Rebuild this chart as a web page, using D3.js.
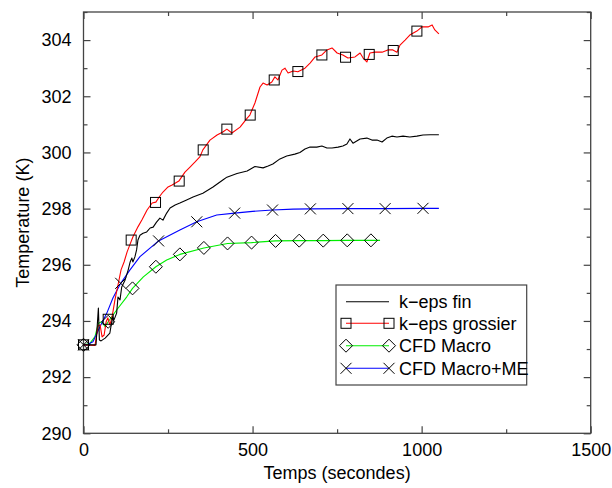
<!DOCTYPE html>
<html>
<head>
<meta charset="utf-8">
<script src="https://cdn.jsdelivr.net/npm/d3@7"></script>
<style>
  html, body { margin: 0; padding: 0; background: #fff; }
  svg { display: block; font-family: "Liberation Sans", Arial, sans-serif; }
</style>
</head>
<body>
<svg id="chart" width="612" height="488"></svg>
<script>
// ---- data ----
const xMajorTicks = [0, 500, 1000, 1500];
const xMinorTicks = [250, 750, 1250];
const yMajorTicks = [290, 292, 294, 296, 298, 300, 302, 304];
const yMinorTicks = [291, 293, 295, 297, 299, 301, 303, 305];

const seriesNames = ["k\u2212eps fin", "k\u2212eps grossier", "CFD Macro", "CFD Macro+ME"];

// k-eps fin (black)
const finT = [0, 37, 44, 47, 52, 64, 78, 86, 90, 98, 102, 108, 113, 123, 132, 138, 143, 146, 152, 157, 161, 167, 176, 187, 197, 206, 216, 226, 235, 246, 256, 271, 285, 305, 324, 353, 383, 412, 424, 454, 484, 507, 531, 546, 560, 581, 601, 625, 640, 655, 670, 690, 705, 720, 735, 753, 767, 779, 788, 797, 818, 838, 853, 868, 883, 897, 912, 927, 945, 965, 986, 1004, 1025, 1051];
const finV = [293.15, 293.15, 294.46, 293.32, 293.29, 293.39, 293.57, 294.15, 294.03, 294.28, 294.85, 294.75, 295.21, 295.46, 295.81, 296.1, 296.24, 296.1, 296.28, 296.53, 296.88, 297.05, 297.12, 297.17, 297.31, 297.34, 297.52, 297.66, 297.59, 297.84, 298.02, 298.13, 298.2, 298.31, 298.41, 298.55, 298.77, 299.02, 299.12, 299.25, 299.34, 299.5, 299.45, 299.52, 299.59, 299.77, 299.87, 299.94, 300.0, 300.12, 300.19, 300.19, 300.23, 300.16, 300.16, 300.19, 300.23, 300.3, 300.48, 300.33, 300.48, 300.51, 300.44, 300.44, 300.37, 300.51, 300.58, 300.55, 300.58, 300.55, 300.58, 300.62, 300.63, 300.63];

// k-eps grossier (red)
const grosT = [0, 34, 40, 43, 49, 55, 61, 67, 72, 78, 84, 93, 102, 111, 120, 129, 137, 146, 161, 173, 188, 203, 214, 226, 235, 250, 262, 282, 300, 315, 330, 344, 353, 374, 395, 412, 424, 439, 463, 484, 492, 507, 522, 531, 543, 557, 566, 575, 587, 596, 605, 620, 634, 655, 670, 685, 705, 720, 735, 750, 767, 782, 803, 818, 827, 838, 847, 862, 883, 900, 915, 927, 936, 951, 965, 986, 1001, 1019, 1031, 1039, 1051];
const grosV = [293.15, 293.13, 293.6, 293.82, 293.86, 293.43, 293.5, 293.97, 294.11, 293.86, 294.11, 294.75, 295.28, 295.82, 296.1, 296.46, 296.71, 296.99, 297.35, 297.6, 297.95, 298.2, 298.23, 298.45, 298.59, 298.77, 298.84, 298.98, 299.3, 299.48, 299.66, 299.84, 300.09, 300.44, 300.62, 300.73, 300.83, 300.69, 300.9, 301.22, 301.33, 301.76, 302.33, 302.47, 302.4, 302.51, 302.69, 302.58, 302.93, 303.0, 302.83, 302.9, 302.87, 303.0, 303.18, 303.4, 303.47, 303.65, 303.72, 303.54, 303.47, 303.36, 303.4, 303.54, 303.36, 303.22, 303.54, 303.57, 303.57, 303.65, 303.65, 303.57, 303.82, 304.0, 304.18, 304.32, 304.47, 304.47, 304.54, 304.36, 304.22];
const grosMarkT = [0, 73, 141, 213, 283, 354, 424, 493, 564, 634, 705, 775, 845, 916, 986];
const grosMarkV = [293.15, 294.06, 296.88, 298.22, 298.98, 300.09, 300.83, 301.33, 302.58, 302.88, 303.47, 303.39, 303.49, 303.63, 304.32];

// CFD Macro (green)
const macroT = [0, 19, 34, 44, 54, 64, 73, 98, 128, 145, 177, 214, 246, 285, 356, 426, 497, 568, 638, 709, 780, 850, 877];
const macroV = [293.15, 293.2, 293.44, 293.92, 293.97, 293.8, 293.97, 294.39, 294.86, 295.16, 295.57, 295.93, 296.17, 296.37, 296.6, 296.76, 296.79, 296.85, 296.86, 296.86, 296.87, 296.87, 296.87];
const macroMarkT = [0, 73, 145, 214, 285, 356, 426, 497, 568, 638, 709, 780, 850];
const macroMarkV = [293.15, 293.97, 295.16, 295.93, 296.37, 296.6, 296.76, 296.79, 296.85, 296.86, 296.86, 296.87, 296.87];

// CFD Macro+ME (blue)
const meT = [0, 10, 28, 49, 69, 87, 110, 137, 167, 222, 285, 335, 394, 447, 500, 559, 620, 671, 782, 892, 1004, 1051];
const meV = [293.15, 293.15, 293.26, 293.8, 294.28, 294.82, 295.34, 295.81, 296.29, 296.85, 297.24, 297.53, 297.77, 297.84, 297.9, 297.95, 297.98, 297.99, 298.0, 298.0, 298.01, 298.01];
const meMarkT = [0, 110, 222, 335, 447, 559, 671, 782, 892, 1004];
const meMarkV = [293.15, 295.34, 296.85, 297.53, 297.84, 297.95, 297.99, 298.0, 298.0, 298.01];

// ---- drawing ----
const svg = d3.select("#chart");
const L = 83.5, R = 590.7, T = 12, B = 433.3;
const x = d3.scaleLinear().domain([0, 1500]).range([L, R]);
const y = d3.scaleLinear().domain([290, 305]).range([B, T]);
const frameColor = "#444";
const fontSize = 18;

function zip(a, b) { return a.map((v, i) => [v, b[i]]); }
const line = d3.line().x(d => x(d[0])).y(d => y(d[1]));

// axes with inward ticks
function styleAxis(g) {
  g.select(".domain").remove();
  g.selectAll(".tick line").attr("stroke", frameColor).attr("stroke-width", 1.2);
  g.selectAll("text").attr("font-size", fontSize).attr("fill", "#000")
    .attr("font-family", "'Liberation Sans', Arial, sans-serif");
}
svg.append("g").attr("transform", `translate(0,${B})`)
  .call(d3.axisBottom(x).tickValues(xMajorTicks).tickSize(-7).tickPadding(10).tickFormat(d3.format("d")))
  .call(styleAxis);
svg.append("g").attr("transform", `translate(0,${B})`)
  .call(d3.axisBottom(x).tickValues(xMinorTicks).tickSize(-4).tickFormat(""))
  .call(styleAxis);
svg.append("g").attr("transform", `translate(0,${T})`)
  .call(d3.axisTop(x).tickValues(xMajorTicks).tickSize(-7).tickFormat(""))
  .call(styleAxis);
svg.append("g").attr("transform", `translate(0,${T})`)
  .call(d3.axisTop(x).tickValues(xMinorTicks).tickSize(-4).tickFormat(""))
  .call(styleAxis);
svg.append("g").attr("transform", `translate(${L},0)`)
  .call(d3.axisLeft(y).tickValues(yMajorTicks).tickSize(-7).tickPadding(12).tickFormat(d3.format("d")))
  .call(styleAxis);
svg.append("g").attr("transform", `translate(${L},0)`)
  .call(d3.axisLeft(y).tickValues(yMinorTicks).tickSize(-4).tickFormat(""))
  .call(styleAxis);
svg.append("g").attr("transform", `translate(${R},0)`)
  .call(d3.axisRight(y).tickValues(yMajorTicks).tickSize(-7).tickFormat(""))
  .call(styleAxis);
svg.append("g").attr("transform", `translate(${R},0)`)
  .call(d3.axisRight(y).tickValues(yMinorTicks).tickSize(-4).tickFormat(""))
  .call(styleAxis);

// frame
svg.append("rect").attr("x", L).attr("y", T).attr("width", R - L).attr("height", B - T)
  .attr("fill", "none").attr("stroke", frameColor).attr("stroke-width", 1.3);

// axis labels
svg.append("text").attr("x", (L + R) / 2).attr("y", 479).attr("text-anchor", "middle")
  .attr("font-size", fontSize).text("Temps (secondes)");
svg.append("text").attr("transform", `translate(29,${(T + B) / 2}) rotate(-90)`)
  .attr("text-anchor", "middle").attr("font-size", fontSize).text("Temperature (K)");

// markers
const sq = 10, dm = 6.5, cr = 5.5;
function drawMarker(g, kind, cx, cy) {
  if (kind === "square") {
    g.append("rect").attr("x", cx - sq / 2).attr("y", cy - sq / 2).attr("width", sq).attr("height", sq)
      .attr("fill", "none").attr("stroke", "#000").attr("stroke-width", 1);
  } else if (kind === "diamond") {
    g.append("path").attr("d", `M${cx},${cy - dm}L${cx + dm},${cy}L${cx},${cy + dm}L${cx - dm},${cy}Z`)
      .attr("fill", "none").attr("stroke", "#000").attr("stroke-width", 1);
  } else if (kind === "cross") {
    g.append("path").attr("d", `M${cx - cr},${cy - cr}L${cx + cr},${cy + cr}M${cx - cr},${cy + cr}L${cx + cr},${cy - cr}`)
      .attr("fill", "none").attr("stroke", "#000").attr("stroke-width", 1);
  }
}

const series = [
  { name: seriesNames[0], color: "#000000", data: zip(finT, finV), marks: [], kind: null },
  { name: seriesNames[1], color: "#ff0000", data: zip(grosT, grosV), marks: zip(grosMarkT, grosMarkV), kind: "square" },
  { name: seriesNames[2], color: "#00ee00", data: zip(macroT, macroV), marks: zip(macroMarkT, macroMarkV), kind: "diamond" },
  { name: seriesNames[3], color: "#0000ff", data: zip(meT, meV), marks: zip(meMarkT, meMarkV), kind: "cross" }
];

const plot = svg.append("g");
[2, 3, 1, 0].forEach(i => {
  const s = series[i];
  plot.append("path").datum(s.data).attr("d", line).attr("fill", "none")
    .attr("stroke", s.color).attr("stroke-width", 1.1).attr("stroke-linejoin", "round");
});
[2, 3, 1].forEach(i => {
  const s = series[i];
  const g = plot.append("g");
  s.marks.forEach(m => drawMarker(g, s.kind, x(m[0]), y(m[1])));
});

// legend
const lg = svg.append("g");
lg.append("rect").attr("x", 336).attr("y", 285).attr("width", 190.7).attr("height", 100)
  .attr("fill", "#fff").attr("stroke", frameColor).attr("stroke-width", 1.2);
const rowY = [301.7, 323.3, 345.7, 368.3];
series.forEach((s, i) => {
  const yy = rowY[i];
  lg.append("line").attr("x1", 346).attr("x2", 389).attr("y1", yy).attr("y2", yy)
    .attr("stroke", s.color).attr("stroke-width", 1.1);
  if (s.kind) { drawMarker(lg, s.kind, 346, yy); drawMarker(lg, s.kind, 389, yy); }
  lg.append("text").attr("x", 399).attr("y", yy).attr("dy", "0.35em")
    .attr("font-size", fontSize).text(s.name);
});
</script>
</body>
</html>
